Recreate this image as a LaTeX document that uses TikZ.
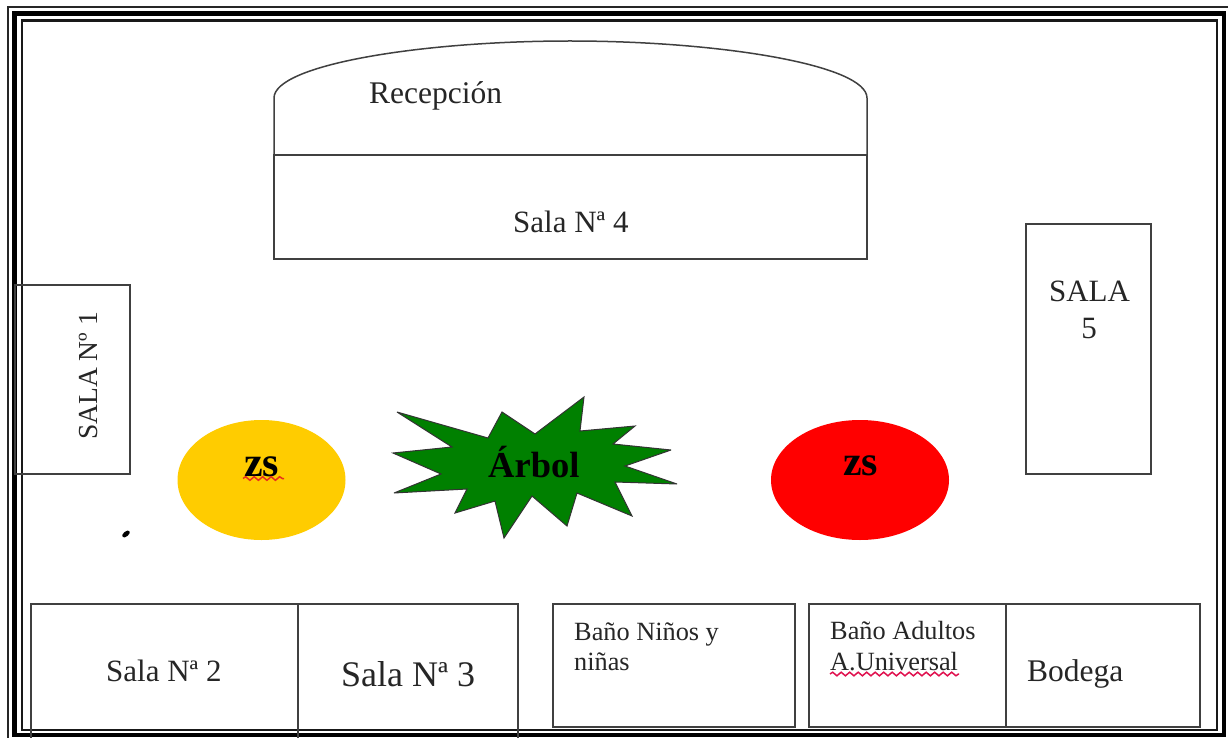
\documentclass[tikz,border=0pt]{standalone}
\usepackage{fontspec}
\setmainfont{Liberation Serif}
\usetikzlibrary{decorations.pathmorphing}
\definecolor{goldfill}{HTML}{FFCC00}
\definecolor{treegreen}{HTML}{008000}
\definecolor{squigred}{HTML}{E8301C}
\definecolor{squigpink}{HTML}{E0104E}
\tikzset{
  x=1pt,y=-1pt,
  room/.style={draw=black!75,line width=1.5pt},
  label/.style={inner sep=0pt,anchor=base west,text=black!85,font=\fontsize{#1}{#1}\selectfont},
  strong/.style={inner sep=0pt,anchor=base west,text=black,font=\fontsize{#1}{#1}\selectfont\bfseries},
  squiggle/.style={draw=#1,line width=1.5pt,decorate,decoration={snake,amplitude=1.8pt,segment length=8.5pt}}
}
\begin{document}
\begin{tikzpicture}
\useasboundingbox (0,0) rectangle (1228,738);
\fill[white] (0,0) rectangle (1228,738);
% triple frame
\draw[black!85,line width=2pt] (8,7) rectangle (1231,741);
\draw[black,line width=4.5pt] (14.5,13.5) rectangle (1224,735);
\draw[black!90,line width=2.5pt] (22,20.5) rectangle (1217,730);
% reception and room 4
\draw[room] (274,155) -- (274,98) .. controls (274,65) and (420,41) .. (570,41) .. controls (720,41) and (867,65) .. (867,98) -- (867,155);
\draw[room] (274,155) rectangle (867,259);
\node[label=31.5] (recepcion) at (369,103.5) {Recepción};
\node[label=31] (sala4) at (513,233) {Sala Nª 4};
% room 1
\draw[room] (15,285) rectangle (130,474);
\node[label=27.5,rotate=90] (sala1) at (97,440) {SALA Nº 1};
% room 5
\draw[room] (1026,224) rectangle (1151,474);
\node[label=31,anchor=base] (sala5a) at (1089.5,301) {SALA};
\node[label=31,anchor=base] (sala5b) at (1089,338) {5};
% ellipses
\fill[goldfill] (261.5,480) ellipse [x radius=84,y radius=60];
\fill[red] (860,480) ellipse [x radius=89,y radius=60];
\node[strong=42] (zsa) at (244,476) {zs};
\draw[squiggle=squigred] (243,478.5) -- (284,478.5);
\node[strong=42] (zsb) at (843,475) {zs};
% tree
\draw[fill=treegreen,draw=black!80,line width=1pt,miter limit=4]
 (397,412) -- (488,438) -- (502,412) -- (535,434) -- (584,397) -- (580,431)
 -- (635,426) -- (613,444) -- (671,450) -- (625,466) -- (677,484) -- (615,482)
 -- (632,516) -- (577,493) -- (567,526) -- (532,496) -- (504,538) -- (495,501)
 -- (455,513) -- (467,489) -- (394,493) -- (441,474) -- (393,453) -- (452,447) -- cycle;
\node[strong=36.5] (arbol) at (488,477) {Árbol};
% small mark
\fill[black,rotate around={40:(126,534)}] (126,534) ellipse [x radius=4.5,y radius=2.5];
% bottom rooms
\draw[room] (31,604) rectangle (518,740);
\draw[room] (298,604) -- (298,740);
\node[label=31] (sala2) at (106,681) {Sala Nª 2};
\node[label=36] (sala3) at (341,686) {Sala Nª 3};
\draw[room] (553,604) rectangle (795,727);
\node[label=26.3] (banoa) at (574,640) {Baño Niños y};
\node[label=26.3] (banob) at (574,670) {niñas};
\draw[room] (809,604) rectangle (1200,727);
\draw[room] (1006,604) -- (1006,727);
\node[label=26.3] (banoc) at (830,639) {Baño Adultos};
\node[label=26.3] (banod) at (830,670) {A.Universal};
\draw[squiggle=squigpink] (830,674) -- (959,674);
\node[label=31.5] (bodega) at (1027,681) {Bodega};
\end{tikzpicture}
\end{document}
